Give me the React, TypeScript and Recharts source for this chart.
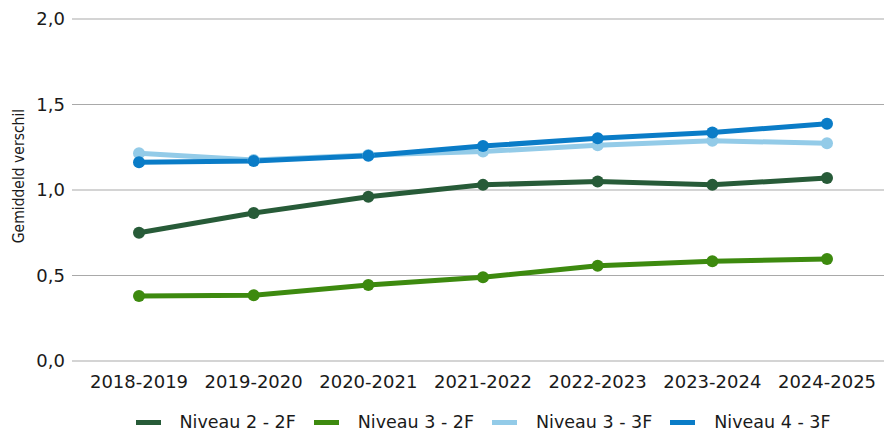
import React from 'react';
import {
  LineChart,
  Line,
  XAxis,
  YAxis,
  CartesianGrid,
  Legend,
  Label,
} from 'recharts';

const schooljaren = [
  '2018-2019',
  '2019-2020',
  '2020-2021',
  '2021-2022',
  '2022-2023',
  '2023-2024',
  '2024-2025',
];

const niveau2_2F = [0.75, 0.865, 0.96, 1.03, 1.05, 1.03, 1.07];
const niveau3_2F = [0.38, 0.385, 0.445, 0.49, 0.557, 0.583, 0.597];
const niveau3_3F = [1.215, 1.175, 1.205, 1.225, 1.262, 1.288, 1.273];
const niveau4_3F = [1.162, 1.17, 1.2, 1.257, 1.302, 1.336, 1.387];

const yTicks = [0, 0.5, 1, 1.5, 2];

const series = [
  { key: 'n22', name: 'Niveau 2 - 2F', color: '#275b38', values: niveau2_2F },
  { key: 'n32', name: 'Niveau 3 - 2F', color: '#3d8a0f', values: niveau3_2F },
  { key: 'n33', name: 'Niveau 3 - 3F', color: '#93cbe8', values: niveau3_3F },
  { key: 'n43', name: 'Niveau 4 - 3F', color: '#0a7cc7', values: niveau4_3F },
];

const data = schooljaren.map((jaar, i) => {
  const row: Record<string, string | number> = { jaar };
  series.forEach((s) => {
    row[s.key] = s.values[i];
  });
  return row;
});

const FONT = '"DejaVu Sans", sans-serif';

const fmt = (v: number) => v.toFixed(1).replace('.', ',');

// legend centered under the plot area, not the whole chart
const LegendContent = () => (
  <div
    style={{
      height: 30,
      marginLeft: 82,
      display: 'flex',
      justifyContent: 'center',
      alignItems: 'center',
      fontFamily: FONT,
      fontSize: 17.5,
      color: '#1a1a1a',
    }}
  >
    {series.map((s) => (
      <div
        key={s.key}
        style={{ display: 'flex', alignItems: 'center', margin: '0 9px' }}
      >
        <span
          style={{
            display: 'inline-block',
            width: 25,
            height: 5,
            background: s.color,
            marginRight: 19,
          }}
        />
        <span>{s.name}</span>
      </div>
    ))}
  </div>
);

const App: React.FC = () => {
  return (
    <div style={{ position: 'absolute', top: 0, left: 0 }}>
      <LineChart
        width={885}
        height={437}
        data={data}
        margin={{ top: 19, right: 1, left: 0, bottom: 0 }}
      >
        <CartesianGrid vertical={false} stroke="#a9a9a9" />
        <XAxis
          dataKey="jaar"
          axisLine={false}
          tickLine={false}
          tickSize={0}
          tickMargin={14}
          height={46}
          interval={0}
          padding={{ left: 57, right: 57 }}
          tick={{ fontFamily: FONT, fontSize: 18, fill: '#1a1a1a' }}
        />
        <YAxis
          width={82}
          domain={[0, 2]}
          ticks={yTicks}
          tickFormatter={fmt}
          axisLine={false}
          tickSize={10}
          tickMargin={7}
          tickLine={{ stroke: '#a9a9a9' }}
          tick={{ fontFamily: FONT, fontSize: 18, fill: '#1a1a1a' }}
        >
          <Label
            content={() => (
              <text
                x={19}
                y={176}
                transform="rotate(-90 19 176)"
                textAnchor="middle"
                dominantBaseline="central"
                fontFamily='"DejaVu Sans Condensed", "DejaVu Sans", sans-serif'
                fontSize={15.5}
                fill="#1a1a1a"
              >
                Gemiddeld verschil
              </text>
            )}
          />
        </YAxis>
        <Legend verticalAlign="bottom" content={<LegendContent />} />
        {series.map((s) => (
          <Line
            key={s.key}
            type="linear"
            dataKey={s.key}
            name={s.name}
            stroke={s.color}
            strokeWidth={5}
            dot={{ r: 6, fill: s.color, stroke: s.color, strokeWidth: 0 }}
            activeDot={false}
            isAnimationActive={false}
          />
        ))}
      </LineChart>
    </div>
  );
};

export default App;
